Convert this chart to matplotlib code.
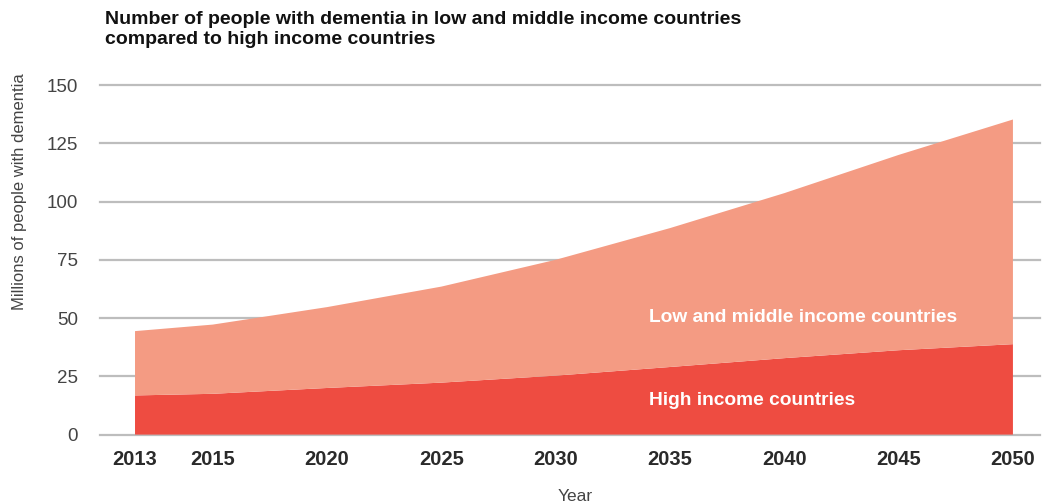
import numpy as np
import matplotlib
matplotlib.use('Agg')
import matplotlib.pyplot as plt

# data (millions of people)
years = [2013, 2015, 2020, 2025, 2030, 2035, 2040, 2045, 2050]
high_income = [16.8, 17.5, 20.0, 22.3, 25.3, 29.0, 32.8, 36.2, 38.8]
total = [44.4, 47.2, 54.7, 63.5, 75.0, 88.6, 103.6, 120.0, 135.2]
low_middle = [t - h for t, h in zip(total, high_income)]
y_ticks = [0, 25, 50, 75, 100, 125, 150]

c_high = '#ee4c41'
c_low = '#f49b83'
grid_c = '#bdbdbd'
txt_c = '#2a2a2a'

plain = ['Liberation Sans', 'DejaVu Sans']


# 2013 sits closer to 2015 than the 5-year steps (as in the original)
def fwd(x):
    x = np.asarray(x, dtype=float)
    return np.where(x < 2015, (x - 2015) * 0.34, (x - 2015) / 5.0)


def inv(p):
    p = np.asarray(p, dtype=float)
    return np.where(p < 0, p / 0.34 + 2015, p * 5.0 + 2015)


fig = plt.figure(figsize=(10.42, 5.03), dpi=100)
ax = fig.add_axes([0.096, 0.136, 0.902, 0.695])
ax.set_xscale('function', functions=(fwd, inv))

for v in y_ticks:
    ax.axhline(v, color=grid_c, lw=1.6, zorder=0, clip_on=False)

ax.stackplot(years, high_income, low_middle, colors=[c_high, c_low],
             linewidth=0, zorder=2)

ax.set_xlim(2012.1, 2051.18)
ax.set_ylim(0, 150)
ax.set_xticks(years)
ax.set_xticklabels([str(y) for y in years], fontsize=14.5, fontweight='bold',
                   family=plain, color=txt_c)
ax.set_yticks(y_ticks)
ax.set_yticklabels([str(v) for v in y_ticks], fontsize=13.5, family=plain,
                   color='#444444')
ax.tick_params(axis='both', length=0)
ax.tick_params(axis='y', pad=16)
ax.tick_params(axis='x', pad=11)
for s in ax.spines.values():
    s.set_visible(False)

ax.set_ylabel('Millions of people with dementia', fontsize=12, family=plain,
              color='#444444')
ax.yaxis.set_label_coords(-0.078, 0.694)
ax.set_xlabel('Year', fontsize=12.5, family=plain, color='#444444')
ax.xaxis.set_label_coords(0.505, -0.155)

ax.text(2034.1, 50.4, 'Low and middle income countries', color='white',
        fontsize=13.75, fontweight='bold', family=plain, va='center', zorder=3)
ax.text(2034.1, 14.8, 'High income countries', color='white',
        fontsize=13.75, fontweight='bold', family=plain, va='center', zorder=3)

fig.text(0.101, 0.978, 'Number of people with dementia in low and middle income countries\n'
         'compared to high income countries', fontsize=14, fontweight='bold',
         family=plain, color='#111111', va='top', linespacing=1.2)

fig.savefig('out.png', dpi=100, facecolor='white')
